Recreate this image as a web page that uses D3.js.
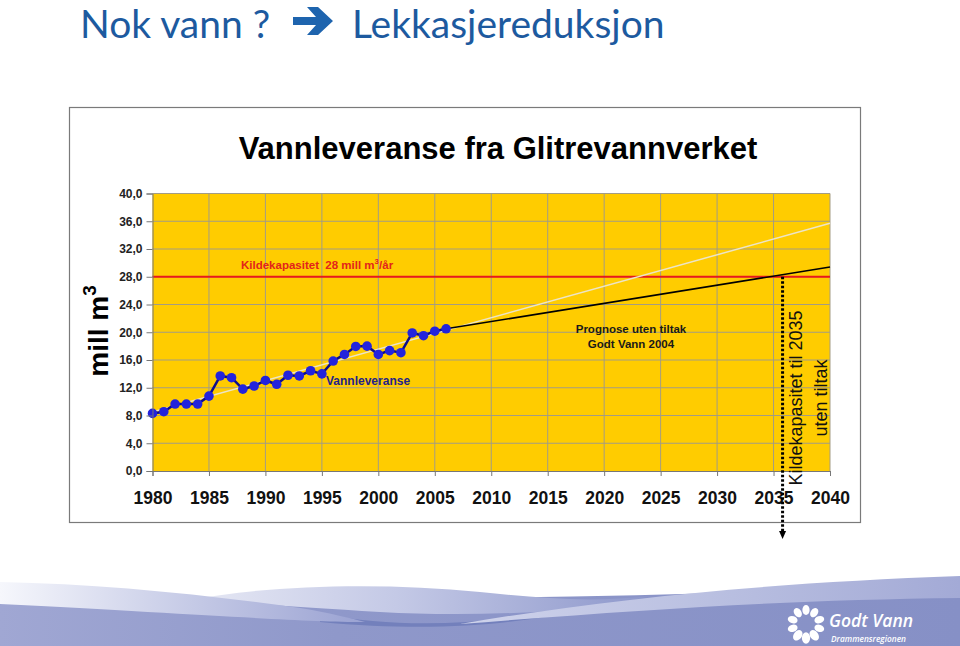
<!DOCTYPE html>
<html>
<head>
<meta charset="utf-8">
<script src="https://cdn.jsdelivr.net/npm/d3@7"></script>
<style>
  html, body { margin: 0; padding: 0; background: #fff; }
  svg { display: block; }
  text { white-space: pre; }
</style>
</head>
<body>
<svg id="chart" width="960" height="646"></svg>
<script>
// Vannleveranse fra Glitrevannverket (mill m3 per år)
const years = [1980, 1981, 1982, 1983, 1984, 1985, 1986, 1987, 1988, 1989, 1990, 1991, 1992, 1993,
               1994, 1995, 1996, 1997, 1998, 1999, 2000, 2001, 2002, 2003, 2004, 2005, 2006];
const delivery = [8.3, 8.55, 9.65, 9.65, 9.65, 10.8, 13.7, 13.45, 11.8, 12.25, 13.05, 12.5, 13.8, 13.7,
                  14.45, 14.0, 15.85, 16.8, 17.95, 18.0, 16.8, 17.35, 17.05, 19.9, 19.5, 20.15, 20.5];

// linear trend (light line) and prognosis without measures (black line)
const trendYears = [1980, 2040];
const trendValues = [8.5, 35.7];
const prognosisYears = [2006, 2040];
const prognosisValues = [20.5, 29.4];

const capacity = 28;
const capacityYear = 2035.8;

const xTicks = [1980, 1985, 1990, 1995, 2000, 2005, 2010, 2015, 2020, 2025, 2030, 2035, 2040];
const yTicks = [0, 4, 8, 12, 16, 20, 24, 28, 32, 36, 40];

const svg = d3.select('#chart');

// ---- background decoration (waves + logo) ----
const defs = svg.append('defs');
function grad(id, stops) {
    const g = defs.append('linearGradient').attr('id', id)
        .attr('x1', '0%').attr('x2', '100%').attr('y1', '0%').attr('y2', '0%');
    stops.forEach(s => g.append('stop').attr('offset', s[0]).attr('stop-color', s[1]));
}
grad('gLeft', [['0%', '#f6f7fc'], ['55%', '#c3c8e5'], ['100%', '#9aa2d2']]);
grad('gMid', [['0%', '#e6e8f4'], ['45%', '#c4c9e6'], ['100%', '#8d97cb']]);
grad('gRight', [['0%', '#cfd3eb'], ['50%', '#bac0e1'], ['100%', '#a3aad6']]);
grad('gBase', [['0%', '#a0a7d3'], ['35%', '#8f98ca'], ['100%', '#8690c6']]);

const deco = svg.append('g');
deco.append('path')
    .attr('d', 'M0,603 C150,604 300,600 480,598 C640,596 800,590 960,588 L960,646 L0,646 Z')
    .attr('fill', 'url(#gBase)');
deco.append('path')
    .attr('d', 'M190,600 C270,585 380,582 480,592 C540,598 590,603 650,596 L600,608 C520,614 450,616 380,612 C300,607 240,603 190,600 Z')
    .attr('fill', 'url(#gMid)');
deco.append('path')
    .attr('d', 'M320,614 C400,628 470,626 560,610 L612,604 C530,622 450,634 320,622 Z')
    .attr('fill', '#7380bc');
deco.append('path')
    .attr('d', 'M0,582 C100,584 200,594 300,608 C330,613 350,618 365,622 C300,622 200,614 0,604 Z')
    .attr('fill', 'url(#gLeft)');
deco.append('path')
    .attr('d', 'M460,624 C600,600 760,583 960,576 L960,598 C780,600 640,610 460,624 Z')
    .attr('fill', 'url(#gRight)');

// logo: ring of drops
const logo = deco.append('g').attr('transform', 'translate(806,624)');
d3.range(10).forEach(i => {
    const a = i * 36 - 90;
    const big = (i >= 4 && i <= 6) ? 1.15 : 1;
    logo.append('ellipse')
        .attr('transform', `rotate(${a}) translate(14,0) rotate(90)`)
        .attr('rx', 3.6 * big).attr('ry', 5 * big)
        .attr('fill', '#fff');
});
deco.append('text').attr('x', 829).attr('y', 627)
    .attr('font-family', 'Open Sans, sans-serif').attr('font-style', 'italic').attr('font-weight', 600)
    .attr('font-size', 17.5).attr('fill', '#fff').text('Godt Vann');
deco.append('text').attr('x', 831).attr('y', 642)
    .attr('font-family', 'Open Sans, sans-serif').attr('font-style', 'italic').attr('font-weight', 600)
    .attr('font-size', 8.3).attr('fill', '#fff').text('Drammensregionen');

// ---- slide title ----
const titleColor = '#1d5a9f';
svg.append('text').attr('x', 80).attr('y', 38)
    .attr('font-family', 'Lato, sans-serif').attr('font-size', 39).attr('fill', titleColor)
    .text('Nok vann ?');
svg.append('path')
    .attr('d', 'M293,17 L316,17 L307,7 L318,7 L333,21 L318,35 L307,35 L316,25 L293,25 Z')
    .attr('fill', '#1e64ae');
svg.append('text').attr('x', 352).attr('y', 38)
    .attr('font-family', 'Lato, sans-serif').attr('font-size', 39).attr('fill', titleColor)
    .text('Lekkasjereduksjon');

// ---- chart frame ----
svg.append('rect').attr('x', 69.5).attr('y', 107.5).attr('width', 791).attr('height', 415)
    .attr('fill', '#fff').attr('stroke', '#7a7a7a').attr('stroke-width', 1.2);

svg.append('text').attr('x', 498).attr('y', 159).attr('text-anchor', 'middle')
    .attr('font-family', 'Liberation Sans, Arial, sans-serif').attr('font-weight', 'bold')
    .attr('font-size', 31).attr('fill', '#000')
    .text('Vannleveranse fra Glitrevannverket');

const margin = { top: 193.5, left: 152.5, right: 830, bottom: 471 };
const x = d3.scaleLinear().domain([1980, 2040]).range([margin.left, margin.right]);
const y = d3.scaleLinear().domain([0, 40]).range([margin.bottom, margin.top]);

const plot = svg.append('g');
plot.append('rect')
    .attr('x', x(1980)).attr('y', y(40))
    .attr('width', x(2040) - x(1980)).attr('height', y(0) - y(40))
    .attr('fill', '#ffcc00');

// gridlines
plot.selectAll('.hgrid').data(yTicks.filter(d => d > 0)).join('line')
    .attr('x1', x(1980)).attr('x2', x(2040))
    .attr('y1', d => y(d)).attr('y2', d => y(d))
    .attr('stroke', '#a39c84').attr('stroke-width', 1);
plot.selectAll('.vgrid').data(xTicks.filter(d => d > 1980)).join('line')
    .attr('x1', d => x(d)).attr('x2', d => x(d))
    .attr('y1', y(0)).attr('y2', y(40))
    .attr('stroke', '#a39c84').attr('stroke-width', 1);

// axes
const locale = d3.formatLocale({ decimal: ',', thousands: ' ', grouping: [3], currency: ['', ''] });
const yAxis = d3.axisLeft(y).tickValues(yTicks).tickFormat(locale.format('.1f')).tickSize(6).tickPadding(4);
const xAxis = d3.axisBottom(x).tickValues(xTicks).tickFormat(d3.format('d')).tickSize(5).tickPadding(16);

const gy = svg.append('g').attr('transform', `translate(${margin.left},0)`).call(yAxis);
gy.select('.domain').attr('stroke', '#777');
gy.selectAll('.tick line').attr('stroke', '#777');
gy.selectAll('.tick text')
    .attr('font-family', 'Liberation Sans, Arial, sans-serif').attr('font-weight', 'bold')
    .attr('font-size', 12).attr('fill', '#222');

const gx = svg.append('g').attr('transform', `translate(0,${margin.bottom})`).call(xAxis);
gx.select('.domain').attr('stroke', '#777');
gx.selectAll('.tick line').attr('stroke', '#777');
gx.selectAll('.tick text')
    .attr('font-family', 'Liberation Sans, Arial, sans-serif').attr('font-weight', 'bold')
    .attr('font-size', 17.5).attr('fill', '#111');

// y axis title
const yt = svg.append('text')
    .attr('transform', 'translate(108,331) rotate(-90)').attr('text-anchor', 'middle')
    .attr('font-family', 'Liberation Sans, Arial, sans-serif').attr('font-weight', 'bold')
    .attr('font-size', 28).attr('fill', '#000');
yt.append('tspan').text('mill m');
yt.append('tspan').attr('dy', -12).attr('font-size', 19).text('3');

// capacity line
plot.append('line')
    .attr('x1', x(1980)).attr('x2', x(2040))
    .attr('y1', y(capacity)).attr('y2', y(capacity))
    .attr('stroke', '#e8181c').attr('stroke-width', 2);

const cap = plot.append('text').attr('x', 241).attr('y', y(capacity) - 8)
    .attr('font-family', 'Liberation Sans, Arial, sans-serif').attr('font-weight', 'bold')
    .attr('font-size', 11.5).attr('fill', '#e3231b');
cap.append('tspan').text('Kildekapasitet  28 mill m');
cap.append('tspan').attr('dy', -5).attr('font-size', 8).text('3');
cap.append('tspan').attr('dy', 5).text('/år');

// trend and prognosis lines
const line = d3.line().x(d => x(d[0])).y(d => y(d[1]));
plot.append('path')
    .attr('d', line(d3.zip(trendYears, trendValues)))
    .attr('fill', 'none').attr('stroke', '#ece4c8').attr('stroke-width', 1.5);
plot.append('path')
    .attr('d', line(d3.zip(prognosisYears, prognosisValues)))
    .attr('fill', 'none').attr('stroke', '#000').attr('stroke-width', 1.6);

// delivery series
const series = d3.zip(years, delivery);
plot.append('path')
    .attr('d', line(series))
    .attr('fill', 'none').attr('stroke', '#0c0c8c').attr('stroke-width', 2.5);
plot.selectAll('.pt').data(series).join('circle')
    .attr('cx', d => x(d[0])).attr('cy', d => y(d[1])).attr('r', 4.8)
    .attr('fill', '#2323dc');

plot.append('text').attr('x', 326).attr('y', 385)
    .attr('font-family', 'Liberation Sans, Arial, sans-serif').attr('font-weight', 'bold')
    .attr('font-size', 12).attr('fill', '#22228a').text('Vannleveranse');

const prog = plot.append('text').attr('text-anchor', 'middle')
    .attr('font-family', 'Liberation Sans, Arial, sans-serif').attr('font-weight', 'bold')
    .attr('font-size', 11.5).attr('fill', '#1a1a1a');
prog.append('tspan').attr('x', 631).attr('y', 333).text('Prognose uten tiltak');
prog.append('tspan').attr('x', 631).attr('y', 348).text('Godt Vann 2004');

// dotted marker with arrow
svg.append('line')
    .attr('x1', x(capacityYear)).attr('x2', x(capacityYear))
    .attr('y1', y(capacity)).attr('y2', 532)
    .attr('stroke', '#000').attr('stroke-width', 3).attr('stroke-dasharray', '2.5,2');
svg.append('path')
    .attr('d', `M${x(capacityYear) - 3.5},531 L${x(capacityYear) + 3.5},531 L${x(capacityYear)},539 Z`)
    .attr('fill', '#000');

const kt = svg.append('text')
    .attr('transform', `translate(${x(capacityYear) + 19},398) rotate(-90)`)
    .attr('text-anchor', 'middle')
    .attr('font-family', 'Liberation Sans, Arial, sans-serif')
    .attr('font-size', 18).attr('fill', '#111');
kt.append('tspan').attr('x', 0).attr('y', 0).text('Kildekapasitet til 2035');
kt.append('tspan').attr('x', 0).attr('y', 25).text('uten tiltak');
</script>
</body>
</html>
